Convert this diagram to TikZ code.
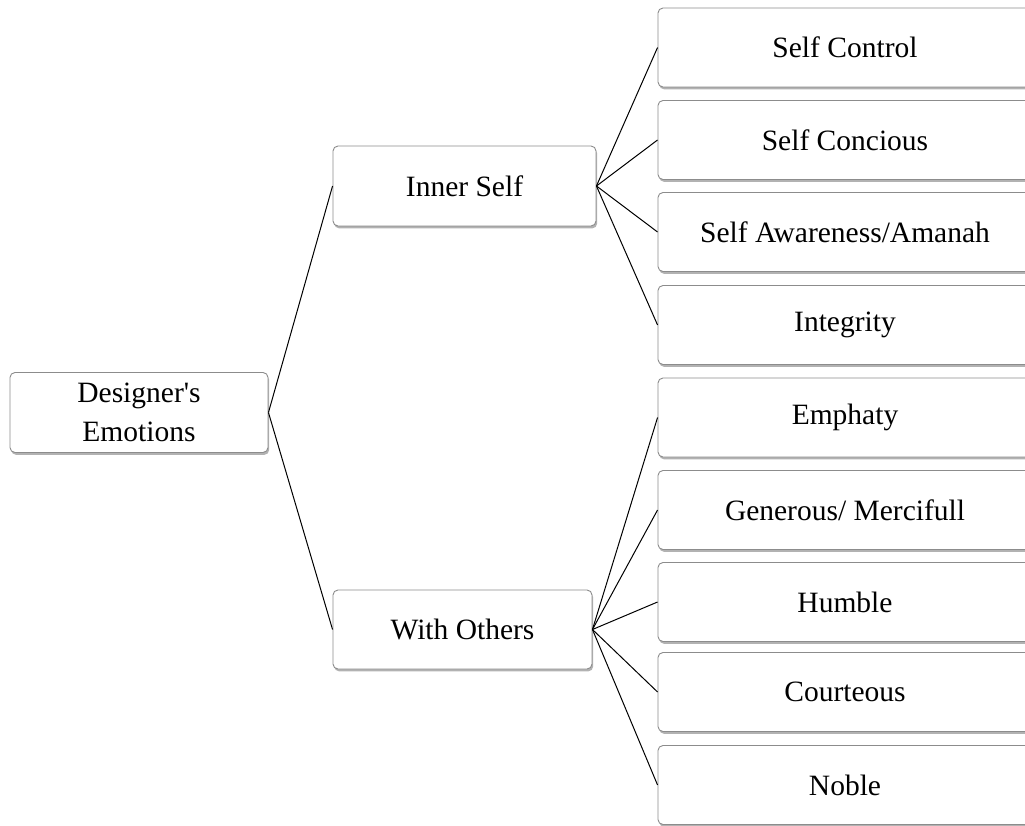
\documentclass[tikz,border=0pt]{standalone}
\usepackage{fontspec}
\setmainfont{Liberation Serif}[Ligatures=TeXOff]
\usetikzlibrary{shadows}
\begin{document}
\begin{tikzpicture}[x=1pt,y=-1pt,
  box/.style={draw=black!45, line width=0.9pt, rounded corners=5pt, fill=white,
    drop shadow={shadow xshift=1.2pt, shadow yshift=-2.4pt, opacity=0.5, fill=black!60},
    inner sep=0pt, align=center, font=\fontsize{29.5}{38.5}\selectfont},
  leaf/.style={box, minimum width=374pt, minimum height=79pt},
  link/.style={draw=black, line width=1pt}]
\useasboundingbox (0,0) rectangle (1025,826);
\clip (0,0) rectangle (1025,826);
\fill[white] (0,0) rectangle (1025,826);
\node[box, minimum width=258pt, minimum height=80pt] (root) at (139,412.5) {Designer's\\Emotions};
\node[box, minimum width=263pt, minimum height=80pt] (inner) at (464.5,186) {Inner Self};
\node[box, minimum width=259pt, minimum height=79pt] (others) at (462.5,629.5) {With Others};
\node[leaf] (l1) at (845,47.5) {Self Control};
\node[leaf] (l2) at (845,140) {Self Concious};
\node[leaf] (l3) at (845,232) {Self Awareness/Amanah};
\node[leaf] (l4) at (845,325) {Integrity};
\node[leaf] (l5) at (845,417.5) {Emphaty};
\node[leaf] (l6) at (845,510) {Generous/ Mercifull};
\node[leaf] (l7) at (845,602) {Humble};
\node[leaf] (l8) at (845,692) {Courteous};
\node[leaf] (l9) at (845,785) {Noble};
\draw[link] (root.east) -- (inner.west);
\draw[link] (root.east) -- (others.west);
\foreach \n in {l1,l2,l3,l4} \draw[link] (inner.east) -- (\n.west);
\foreach \n in {l5,l6,l7,l8,l9} \draw[link] (others.east) -- (\n.west);
\end{tikzpicture}
\end{document}
